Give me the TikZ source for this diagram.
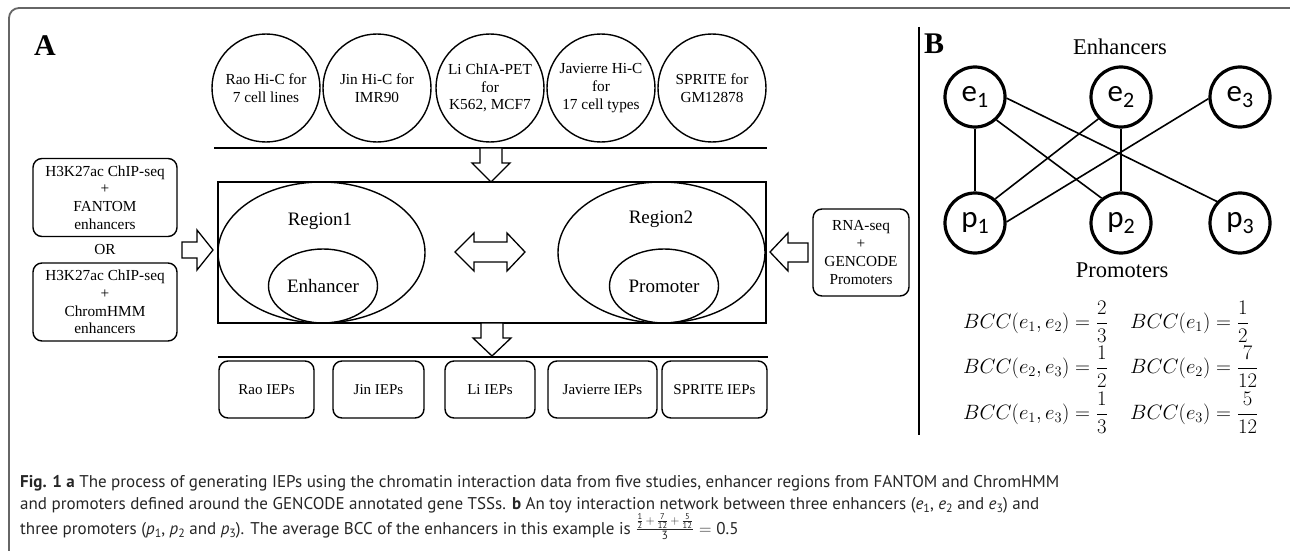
\documentclass[tikz,border=0pt]{standalone}
\usepackage{fontspec}
\usepackage{amsmath}
\usetikzlibrary{shapes.geometric}
\setmainfont{Liberation Serif}
\newfontfamily\capfont{PT Sans}
\newfontfamily\netfont{Carlito}

% label of a network vertex: letter with a lowered index
\newcommand{\vtx}[2]{{\netfont\fontsize{31}{31}\selectfont #1\raisebox{-6pt}{\fontsize{22}{22}\selectfont #2}}}
% italic letter with a lowered index, for the caption
\newcommand{\capvar}[2]{\textit{#1}\raisebox{-3pt}{\fontsize{12}{12}\selectfont #2}}
\newcommand{\cf}[1]{\text{\capfont #1}}

\begin{document}
\begin{tikzpicture}[x=1pt,y=-1pt,
  src/.style={circle, draw, line width=1.4pt, minimum size=108pt, inner sep=0pt,
    align=center, font=\fontsize{15.3}{17.6}\selectfont},
  sidebox/.style={rectangle, rounded corners=9pt, draw, line width=1.4pt,
    minimum width=144pt, minimum height=78pt, align=center, inner sep=0pt,
    font=\fontsize{15.3}{17.8}\selectfont},
  outbox/.style={rectangle, rounded corners=9pt, draw, line width=1.4pt,
    minimum height=57pt, inner sep=0pt, font=\fontsize{15}{17}\selectfont},
  region/.style={ellipse, draw, line width=1.4pt, inner sep=0pt,
    minimum width=207pt, minimum height=141pt},
  core/.style={ellipse, draw, line width=1.4pt, inner sep=0pt,
    minimum width=109pt, minimum height=74pt, font=\fontsize{19}{19}\selectfont},
  blockarrow/.style={draw, fill=white, line width=1.3pt, line join=miter},
  vert/.style={circle, draw, line width=3.2pt, minimum size=60pt, inner sep=0pt},
  link/.style={line width=1.6pt},
  panel/.style={font=\bfseries\fontsize{30}{30}\selectfont},
  eqn/.style={anchor=west, inner sep=0pt, font=\fontsize{21}{21}\selectfont},
  capline/.style={anchor=base west, inner sep=0pt,
    font=\capfont\fontsize{17}{17}\selectfont, text=black!85},
]
\useasboundingbox (0,0) rectangle (1290,551);

% figure frame
\draw[black!60, line width=1.8pt, rounded corners=10pt] (9,560) -- (9,8) -- (1300,8);

% ---------------- panel A ----------------
\node[panel] (labA) at (45,46) {A};

\node[src] (rao) at (266,88) {Rao Hi-C for\\7 cell lines};
\node[src] (jin) at (377,88) {Jin Hi-C for\\IMR90};
\node[src] (li)  at (490,88) {Li ChIA-PET\\for\\K562, MCF7};
\node[src] (jav) at (601,88) {Javierre Hi-C\\for\\17 cell types};
\node[src] (spr) at (712,88) {SPRITE for\\GM12878};
\draw[line width=1.6pt] (214,148) -- (767,148);

% central box with the two regions
\node[draw, line width=1.6pt, minimum width=548pt, minimum height=141pt, inner sep=0pt]
  (hub) at (492,252.5) {};
\node[region] (reg1) at (321.5,252.5) {};
\node[region] (reg2) at (661.5,252.5) {};
\node[font=\fontsize{19}{19}\selectfont] (reg1t) at (320,221) {Region1};
\node[font=\fontsize{19}{19}\selectfont] (reg2t) at (661,219) {Region2};
\node[core] (enh) at (323,286) {Enhancer};
\node[core] (pro) at (664,286) {Promoter};

% side inputs
\node[sidebox] (fantom) at (105,197.5) {H3K27ac ChIP-seq\\+\\FANTOM\\enhancers};
\node[font=\fontsize{15.3}{17}\selectfont] (or) at (105,250) {OR};
\node[sidebox] (chrom) at (105,302) {H3K27ac ChIP-seq\\+\\ChromHMM\\enhancers};
\node[sidebox, minimum width=96pt, minimum height=87pt] (rna) at (861,252.5)
  {RNA-seq\\+\\GENCODE\\Promoters};

% outputs
\draw[line width=1.6pt] (218,357) -- (768,357);
\node[outbox, minimum width=95pt]  (oRao) at (266.5,389.5) {Rao IEPs};
\node[outbox, minimum width=91pt]  (oJin) at (378.5,389.5) {Jin IEPs};
\node[outbox, minimum width=90pt]  (oLi)  at (490,389.5) {Li IEPs};
\node[outbox, minimum width=109pt] (oJav) at (602.5,389.5) {Javierre IEPs};
\node[outbox, minimum width=105pt] (oSpr) at (714.5,389.5) {SPRITE IEPs};

% block arrows
\draw[blockarrow] (480,148) -- (502,148) -- (502,163) -- (510,163) -- (491,182)
  -- (472,163) -- (480,163) -- cycle;
\draw[blockarrow] (481,323) -- (503,323) -- (503,338) -- (511,338) -- (492,356)
  -- (473,338) -- (481,338) -- cycle;
\draw[blockarrow] (182,242) -- (197,242) -- (197,230) -- (213,250) -- (197,270)
  -- (197,258) -- (182,258) -- cycle;
\draw[blockarrow] (808,243) -- (788,243) -- (788,233) -- (770,252) -- (788,271)
  -- (788,262) -- (808,262) -- cycle;
\draw[blockarrow] (455,252) -- (474,233) -- (474,242) -- (507,242) -- (507,233)
  -- (525,252) -- (507,271) -- (507,262) -- (474,262) -- (474,271) -- cycle;

% ---------------- panel B ----------------
\draw[line width=1.6pt] (919,27) -- (919,435);
\node[panel] (labB) at (934,43.5) {B};
\node[font=\fontsize{22.5}{22.5}\selectfont] (enht) at (1120,47) {Enhancers};
\node[font=\fontsize{22.5}{22.5}\selectfont] (prot) at (1122,270) {Promoters};

\node[vert] (e1) at (975,97)  {\vtx{e}{1}};
\node[vert] (e2) at (1121,97) {\vtx{e}{2}};
\node[vert] (e3) at (1240,97) {\vtx{e}{3}};
\node[vert] (p1) at (975,223)  {\vtx{p}{1}};
\node[vert] (p2) at (1121,223) {\vtx{p}{2}};
\node[vert] (p3) at (1240,223) {\vtx{p}{3}};

\draw[link] (e1) -- (p1);
\draw[link] (e2) -- (p2);
\draw[link] (e1.-47) -- (p2.128);
\draw[link] (e1.-2) -- (p3.137);
\draw[link] (e2.-136) -- (p1.50);
\draw[link] (e3.183) -- (p1.2);

\node[eqn] (q1) at (963,322) {$BCC(e_1,e_2)=\dfrac{2}{3}$};
\node[eqn] (q2) at (963,367) {$BCC(e_2,e_3)=\dfrac{1}{2}$};
\node[eqn] (q3) at (963,413) {$BCC(e_1,e_3)=\dfrac{1}{3}$};
\node[eqn] (q4) at (1130,322) {$BCC(e_1)=\dfrac{1}{2}$};
\node[eqn] (q5) at (1130,367) {$BCC(e_2)=\dfrac{7}{12}$};
\node[eqn] (q6) at (1130,413) {$BCC(e_3)=\dfrac{5}{12}$};

% ---------------- caption ----------------
\node[capline] (c1) at (20,487) {\textbf{Fig. 1 a} The process of generating IEPs using the chromatin interaction data from five studies, enhancer regions from FANTOM and ChromHMM};
\node[capline] (c2) at (20,509) {and promoters defined around the GENCODE annotated gene TSSs. \textbf{b} An toy interaction network between three enhancers (\capvar{e}{1}, \capvar{e}{2} and \capvar{e}{3}) and};
\node[capline] (c3) at (20,534) {three promoters (\capvar{p}{1}, \capvar{p}{2} and \capvar{p}{3}). The average BCC of the enhancers in this example is $\frac{\frac{\cf{1}}{\cf{2}}\,+\,\frac{\cf{7}}{\cf{12}}\,+\,\frac{\cf{5}}{\cf{12}}}{\cf{3}}=\cf{0.5}$};
\end{tikzpicture}
\end{document}
